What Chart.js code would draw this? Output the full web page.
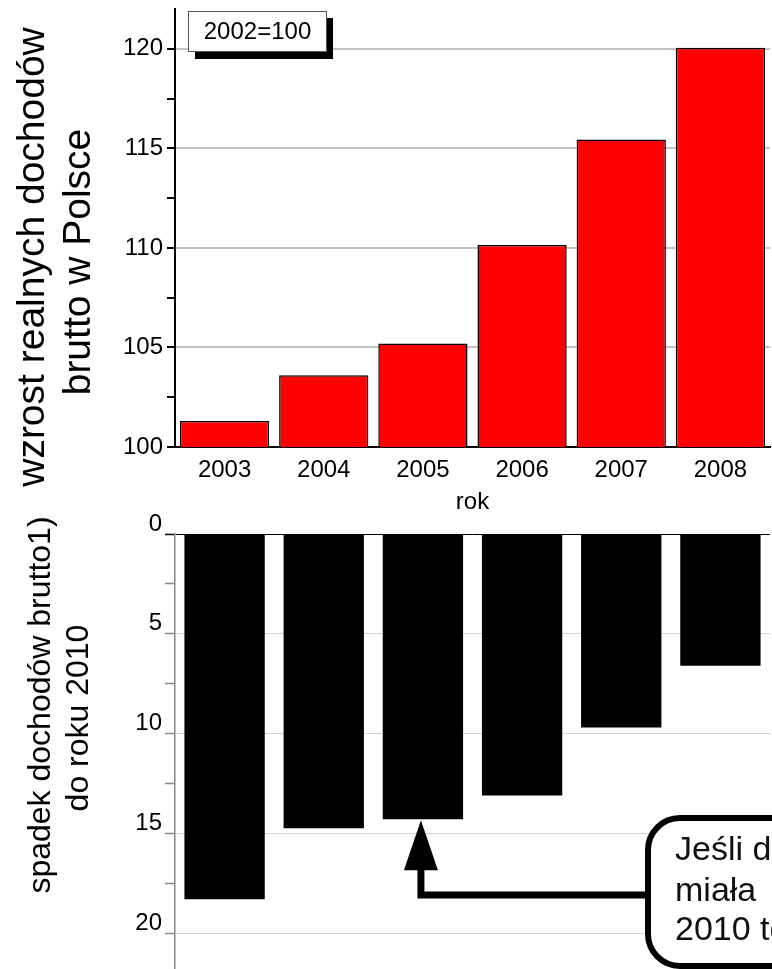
<!DOCTYPE html>
<html>
<head>
<meta charset="utf-8">
<script src="https://cdn.jsdelivr.net/npm/chart.js@4.4.0/dist/chart.umd.min.js"></script>
<style>
  html, body { margin: 0; padding: 0; background: #fff; }
  #wrap { position: relative; width: 772px; height: 969px; overflow: hidden; }
  canvas { position: absolute; left: 0; }
  #gornyWykres { top: 0; }
  #dolnyWykres { top: 500px; }
</style>
</head>
<body>
<div id="wrap">
  <canvas id="gornyWykres" width="772" height="520"></canvas>
  <canvas id="dolnyWykres" width="772" height="469"></canvas>
</div>
<script>
// dane
const lata = ['2003', '2004', '2005', '2006', '2007', '2008'];
const wzrostDochodow = [101.3, 103.6, 105.2, 110.15, 115.45, 120.05];
const spadekDochodow = [18.3, 14.75, 14.3, 13.1, 9.7, 6.6];
const tickiGorne = [100, 105, 110, 115, 120];
const tickiDolne = [0, 5, 10, 15, 20];
const tytulGorny = ['wzrost realnych dochodów', 'brutto w Polsce'];
const tytulDolny = ['spadek dochodów brutto1)', 'do roku 2010'];
const dymek = ['Jeśli dochody', 'miała', '2010 to'];

Chart.defaults.font.family = "'Liberation Sans', Arial, sans-serif";
Chart.defaults.color = '#000';

// tytul osi Y rysowany recznie (dwie linie, obrocone)
function rysujTytul(ctx, linie, rozmiar, xy) {
  ctx.save();
  ctx.font = rozmiar + "px 'Liberation Sans', Arial, sans-serif";
  ctx.fillStyle = '#000';
  ctx.textAlign = 'center';
  ctx.textBaseline = 'alphabetic';
  ctx.rotate(-Math.PI / 2);
  for (let i = 0; i < linie.length; i++) {
    ctx.fillText(linie[i], -xy[i][1], xy[i][0]);
  }
  ctx.restore();
}

// bez dodatkowego marginesu na etykiety skrajne
function szerokoscOsi(s) {
  s.width = 175;
  s.paddingTop = 0;
  s.paddingBottom = 0;
}

const gornyPlugin = {
  id: 'gornyPlugin',
  afterDraw(chart) {
    const ctx = chart.ctx;
    rysujTytul(ctx, tytulGorny, 39, [[44, 257], [90, 262]]);
    // ramka "2002=100" z cieniem
    ctx.save();
    ctx.fillStyle = '#000';
    ctx.fillRect(195, 18, 138, 41);
    ctx.fillStyle = '#fff';
    ctx.fillRect(188, 11, 139, 41);
    ctx.strokeStyle = '#555';
    ctx.lineWidth = 1;
    ctx.strokeRect(188.5, 11.5, 138, 40);
    ctx.fillStyle = '#000';
    ctx.font = "24px 'Liberation Sans', Arial, sans-serif";
    ctx.textAlign = 'center';
    ctx.textBaseline = 'middle';
    ctx.fillText('2002=100', 257.5, 32);
    ctx.restore();
  }
};

const dolnyPlugin = {
  id: 'dolnyPlugin',
  afterDraw(chart) {
    const ctx = chart.ctx;
    rysujTytul(ctx, tytulDolny, 32, [[50, 205], [88, 218]]);

    const xs = chart.scales.x, ys = chart.scales.y;
    const ax = xs.getPixelForValue(2) - 2;
    const tipY = ys.getPixelForValue(spadekDochodow[2]);
    ctx.save();
    // strzalka
    ctx.strokeStyle = '#000';
    ctx.lineWidth = 7;
    ctx.lineJoin = 'miter';
    ctx.beginPath();
    ctx.moveTo(648, 395);
    ctx.lineTo(ax, 395);
    ctx.lineTo(ax, tipY + 45);
    ctx.stroke();
    ctx.fillStyle = '#000';
    ctx.beginPath();
    ctx.moveTo(ax - 17, tipY + 51);
    ctx.lineTo(ax + 17, tipY + 51);
    ctx.lineTo(ax, tipY + 1);
    ctx.closePath();
    ctx.fill();
    // dymek
    ctx.fillStyle = '#fff';
    ctx.lineWidth = 6;
    ctx.beginPath();
    ctx.roundRect(648, 318, 300, 148, 32);
    ctx.fill();
    ctx.stroke();
    ctx.fillStyle = '#111';
    ctx.font = "34px 'Liberation Sans', Arial, sans-serif";
    ctx.textAlign = 'left';
    ctx.textBaseline = 'alphabetic';
    ctx.fillText(dymek[0], 675, 360);
    ctx.fillText(dymek[1], 675, 401);
    ctx.fillText(dymek[2], 675, 440);
    ctx.restore();
  }
};

new Chart(document.getElementById('gornyWykres'), {
  type: 'bar',
  data: {
    labels: lata,
    datasets: [{
      data: wzrostDochodow,
      backgroundColor: '#ff0000',
      borderColor: '#000',
      borderWidth: 1.5,
      barPercentage: 0.9,
      categoryPercentage: 1.0
    }]
  },
  options: {
    responsive: false,
    animation: false,
    layout: { padding: { top: 9, left: 0, right: 2, bottom: 0 } },
    plugins: { legend: { display: false }, tooltip: { enabled: false } },
    scales: {
      x: {
        grid: { display: false },
        border: { color: '#000', width: 2 },
        ticks: { font: { size: 24 }, padding: 1 },
        title: { display: true, text: 'rok', font: { size: 24 }, padding: { top: 0, bottom: 3 } },
        afterFit: function (s) { s.height = 73; }
      },
      y: {
        min: 100,
        max: 122,
        ticks: {
          stepSize: 2.5,
          includeBounds: false,
          font: { size: 24 },
          padding: 4,
          callback: function (v) { return tickiGorne.includes(v) ? v : ''; }
        },
        grid: {
          color: function (c) { return c.tick && tickiGorne.includes(c.tick.value) && c.tick.value !== 100 ? '#c4c4c4' : 'rgba(0,0,0,0)'; },
          lineWidth: 2,
          tickLength: 8,
          tickColor: '#000',
          tickWidth: 2
        },
        border: { color: '#000', width: 2 },
        afterFit: szerokoscOsi
      }
    }
  },
  plugins: [gornyPlugin]
});

new Chart(document.getElementById('dolnyWykres'), {
  type: 'bar',
  data: {
    labels: lata,
    datasets: [{
      data: spadekDochodow,
      backgroundColor: '#000',
      borderWidth: 0,
      barPercentage: 0.81,
      categoryPercentage: 1.0
    }]
  },
  options: {
    responsive: false,
    animation: false,
    layout: { padding: { top: 34, left: 0, right: 2, bottom: 0 } },
    plugins: { legend: { display: false }, tooltip: { enabled: false } },
    scales: {
      x: { display: false },
      y: {
        reverse: true,
        min: 0,
        max: 21.8,
        ticks: {
          stepSize: 2.5,
          includeBounds: false,
          labelOffset: -10,
          font: { size: 24 },
          padding: 3,
          callback: function (v) { return tickiDolne.includes(v) ? v : ''; }
        },
        grid: {
          color: function (c) {
            if (!c.tick) return 'rgba(0,0,0,0)';
            if (c.tick.value === 0) return '#000';
            return tickiDolne.includes(c.tick.value) ? '#d4d4d4' : 'rgba(0,0,0,0)';
          },
          lineWidth: 1,
          tickLength: 10,
          tickColor: function (c) { return c.tick && c.tick.value === 0 ? '#000' : '#888'; },
          tickWidth: 1.5
        },
        border: { color: '#888', width: 1.5 },
        afterFit: szerokoscOsi
      }
    }
  },
  plugins: [dolnyPlugin]
});
</script>
</body>
</html>
